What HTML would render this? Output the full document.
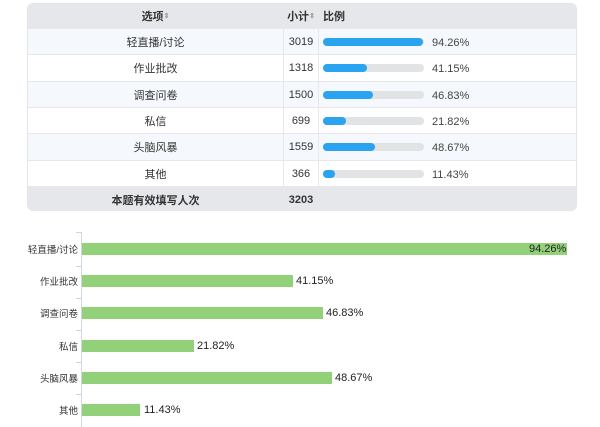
<!DOCTYPE html>
<html><head><meta charset="utf-8"><style>
*{margin:0;padding:0;box-sizing:border-box}
body{width:600px;height:427px;background:#fff;font-family:"Liberation Sans","Noto Sans CJK SC",sans-serif;position:relative;overflow:hidden;color:#333}
.tbl{position:absolute;left:27px;top:3px;width:550px;height:208px;border:1px solid #e3e5e9;border-radius:6px;overflow:hidden;background:#fff}
.r{position:absolute;left:0;width:550px;font-size:11px;border-top:1px solid #e6e8ec}
.r div{position:absolute;top:0;height:100%;display:flex;align-items:center}
.c1{left:0;width:256px;justify-content:center;border-right:1px solid #e6e8ec}
.c2{left:256px;width:35px;justify-content:center;border-right:1px solid #e6e8ec}
.c3{left:291px;width:259px}
.bar{position:absolute;left:295px;width:101px;height:8px;border-radius:4px;background:#e2e3e5}
.bar i{display:block;height:8px;border-radius:4px;background:#2aa3f0}
.pct{position:absolute;left:404px;font-size:11px;color:#444}
.lab{position:absolute;right:522px;font-size:9.5px;color:#333;text-align:right;white-space:nowrap}
.gb{position:absolute;left:82px;height:12px;background:#92d17a}
.gv{position:absolute;font-size:11px;color:#222}
</style></head><body>
<div class="tbl">
<div class="r" style="top:0;height:24px;background:#e5e7eb;border-top:none;font-weight:bold"><div class="c1">选项 <span style="font-size:7px;color:#999">&#8661;</span></div><div class="c2">小计<span style="font-size:7px;color:#999">&#8661;</span></div><div class="c3" style="padding-left:4px">比例</div></div>
<div class="r" style="top:24px;height:26px;background:#f5f8fc"><div class="c1">轻直播/讨论</div><div class="c2">3019</div><div class="c3"></div><span class="bar" style="top:9px"><i style="width:100px"></i></span><span class="pct" style="top:8px">94.26%</span></div>
<div class="r" style="top:50px;height:27px"><div class="c1">作业批改</div><div class="c2">1318</div><div class="c3"></div><span class="bar" style="top:9px"><i style="width:44px"></i></span><span class="pct" style="top:8px">41.15%</span></div>
<div class="r" style="top:77px;height:26px;background:#f5f8fc"><div class="c1">调查问卷</div><div class="c2">1500</div><div class="c3"></div><span class="bar" style="top:9px"><i style="width:50px"></i></span><span class="pct" style="top:8px">46.83%</span></div>
<div class="r" style="top:103px;height:26px"><div class="c1">私信</div><div class="c2">699</div><div class="c3"></div><span class="bar" style="top:9px"><i style="width:23px"></i></span><span class="pct" style="top:8px">21.82%</span></div>
<div class="r" style="top:129px;height:27px;background:#f5f8fc"><div class="c1">头脑风暴</div><div class="c2">1559</div><div class="c3"></div><span class="bar" style="top:9px"><i style="width:52px"></i></span><span class="pct" style="top:8px">48.67%</span></div>
<div class="r" style="top:156px;height:26px"><div class="c1">其他</div><div class="c2">366</div><div class="c3"></div><span class="bar" style="top:9px"><i style="width:12px"></i></span><span class="pct" style="top:8px">11.43%</span></div>
<div class="r" style="top:182px;height:26px;background:#e5e7eb;font-weight:bold"><div class="c1">本题有效填写人次</div><div class="c2">3203</div><div class="c3"></div></div>
</div>
<div style="position:absolute;left:81px;top:232px;width:1px;height:195px;background:#cfd8e3"></div>
<div style="position:absolute;left:76px;top:232px;width:5px;height:1px;background:#cfd8e3"></div>
<div style="position:absolute;left:76px;top:266px;width:5px;height:1px;background:#cfd8e3"></div>
<div style="position:absolute;left:76px;top:298px;width:5px;height:1px;background:#cfd8e3"></div>
<div style="position:absolute;left:76px;top:330px;width:5px;height:1px;background:#cfd8e3"></div>
<div style="position:absolute;left:76px;top:362px;width:5px;height:1px;background:#cfd8e3"></div>
<div style="position:absolute;left:76px;top:394px;width:5px;height:1px;background:#cfd8e3"></div>
<div class="lab" style="top:242px">轻直播/讨论</div>
<div class="lab" style="top:274px">作业批改</div>
<div class="lab" style="top:306px">调查问卷</div>
<div class="lab" style="top:339px">私信</div>
<div class="lab" style="top:371px">头脑风暴</div>
<div class="lab" style="top:403px">其他</div>
<div class="gb" style="top:243px;width:485px"></div><div class="gv" style="top:243px;left:529px">94.26%</div>
<div class="gb" style="top:275px;width:211px"></div><div class="gv" style="top:275px;left:296px">41.15%</div>
<div class="gb" style="top:307px;width:241px"></div><div class="gv" style="top:307px;left:326px">46.83%</div>
<div class="gb" style="top:340px;width:112px"></div><div class="gv" style="top:340px;left:197px">21.82%</div>
<div class="gb" style="top:372px;width:250px"></div><div class="gv" style="top:372px;left:335px">48.67%</div>
<div class="gb" style="top:404px;width:58px"></div><div class="gv" style="top:404px;left:144px">11.43%</div>
</body></html>
